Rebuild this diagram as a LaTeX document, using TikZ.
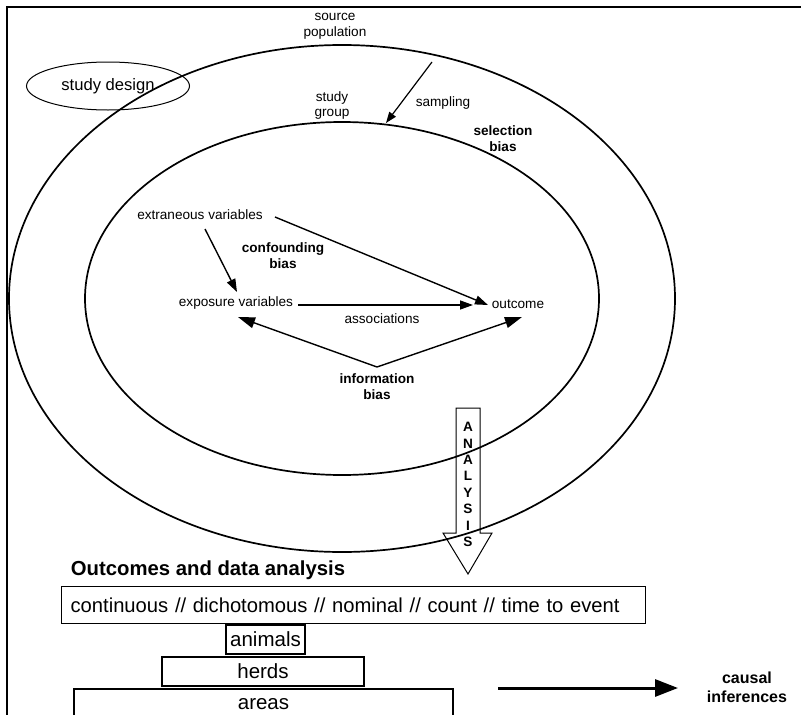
\documentclass[tikz,border=0pt]{standalone}
\usepackage{fontspec}
\setmainfont{Liberation Sans}
\usetikzlibrary{arrows.meta,shapes.geometric}
\begin{document}
\begin{tikzpicture}[x=1pt,y=-1pt,
  lbl/.style={font=\fontsize{13.6}{15.6}\selectfont, align=center, inner sep=0pt},
  blbl/.style={font=\fontsize{13.6}{16.4}\selectfont\bfseries, align=center, inner sep=0pt},
  ring/.style={draw, ellipse, line width=1.7pt, inner sep=0pt},
  arr/.style={line width=1.4pt, -{Triangle[length=13pt,width=9pt]}},
  bigtip/.style={line width=1.4pt, -{Triangle[length=17pt,width=11pt]}},
  thinarr/.style={line width=1.2pt, -{Triangle[length=11pt,width=8pt]}},
  box/.style={draw, line width=1.2pt, font=\fontsize{20.5}{24}\selectfont, inner sep=0pt},
]
\useasboundingbox (0,0) rectangle (801,715);
% frame
\draw[line width=2.3pt] (7,720) -- (7,7) -- (806,7);
% ellipses
\node[ring, minimum width=666pt, minimum height=507pt] (outer) at (342,298.5) {};
\node[ring, minimum width=514pt, minimum height=353pt] (inner) at (342,298.5) {};
\node[draw, ellipse, line width=1pt, inner sep=0pt, minimum width=163pt, minimum height=48pt,
      font=\fontsize{16.6}{19}\selectfont] (design) at (108,86) {study design};
% labels
\node[lbl] (src) at (335,26) {source\\population};
\node[lbl] (grp) at (332,105.5) {study\\group};
\node[lbl] (samp) at (443,103) {sampling};
\node[blbl] (sel) at (503,138.5) {selection\\bias};
\node[lbl] (ext) at (200,215) {extraneous variables};
\node[blbl] (conf) at (283,255.5) {confounding\\bias};
\node[lbl] (expo) at (236,303) {exposure variables};
\node[lbl] (outc) at (518,304) {outcome};
\node[lbl] (assoc) at (382,319) {associations};
\node[blbl] (info) at (377,386.5) {information\\bias};
% arrow coordinates
\coordinate (sa) at (432,62);
\coordinate (sb) at (386,123);
\coordinate (ea) at (205,229);
\coordinate (eb) at (237,292);
\coordinate (ec) at (275,217);
\coordinate (ed) at (488,305);
\coordinate (xa) at (298,305);
\coordinate (xb) at (473,305);
\coordinate (ia) at (377,367);
\coordinate (ib) at (238,317);
\coordinate (ic) at (522,317);
\draw[thinarr] (sa) -- (sb);
\draw[arr] (ea) -- (eb);
\draw[arr] (ec) -- (ed);
\draw[arr] (xa) -- (xb);
\draw[bigtip] (ia) -- (ib);
\draw[bigtip] (ia) -- (ic);
% analysis arrow
\draw[line width=1pt] (456,408) -- (480,408) -- (480,533) -- (492,533) -- (468,574)
  -- (443,533) -- (456,533) -- cycle;
\node[font=\fontsize{13.6}{16.4}\selectfont\bfseries, align=center, inner sep=0pt] (analysis)
  at (468,484.5) {A\\N\\A\\L\\Y\\S\\I\\S};
% bottom part
\node[font=\fontsize{20.3}{23}\selectfont\bfseries, inner sep=0pt] (otitle) at (208,570)
  {Outcomes and data analysis};
\node[box, anchor=north west, minimum height=37pt, text width=566pt, inner xsep=9pt, align=left,
  font=\fontsize{20.2}{24}\selectfont]
  (cont) at (61,586) {continuous // dichotomous // nominal // count // time to event};
\node[box, minimum width=79pt, minimum height=29pt] (animals) at (265.5,639.5) {animals};
\node[box, minimum width=202pt, minimum height=29pt] (herds) at (263,671.5) {herds};
\node[box, minimum width=379pt, minimum height=30pt] (areas) at (263.5,704) {areas};
\coordinate (ca) at (498,688);
\coordinate (cb) at (678,688);
\draw[line width=3pt, -{Triangle[length=23pt,width=17pt]}] (ca) -- (cb);
\node[font=\fontsize{16}{19}\selectfont\bfseries, align=center, inner sep=0pt] (causal)
  at (747,687.5) {causal\\inferences};
\end{tikzpicture}
\end{document}
